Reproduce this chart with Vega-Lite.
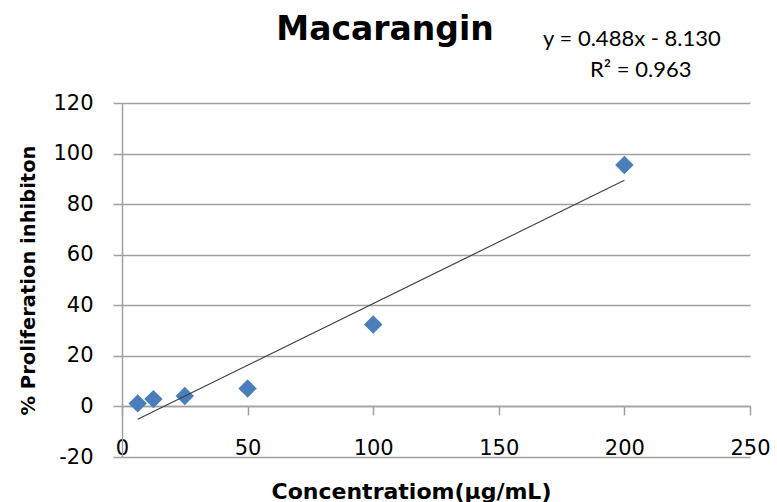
{
  "$schema": "https://vega.github.io/schema/vega-lite/v6.json",
  "width": 628,
  "height": 354,
  "autosize": {"type": "none"},
  "padding": {"left": 122, "top": 103, "right": 27, "bottom": 45},
  "background": "white",
  "config": {"view": {"stroke": null}},
  "title": {
    "text": "Macarangin",
    "font": "DejaVu Sans",
    "fontSize": 33,
    "fontWeight": "bold",
    "color": "black",
    "anchor": "middle",
    "frame": "group",
    "dx": -51,
    "offset": -19
  },
  "datasets": {
    "points": [
      {"conc": 6.25, "inhib": 1.2},
      {"conc": 12.5, "inhib": 2.9},
      {"conc": 25, "inhib": 4.1},
      {"conc": 50, "inhib": 7.1},
      {"conc": 100, "inhib": 32.4},
      {"conc": 200, "inhib": 95.5}
    ],
    "trend": [
      {"conc": 6.25, "inhib": -5.08},
      {"conc": 200, "inhib": 89.47}
    ],
    "eq": [{"label": "y = 0.488x - 8.130"}],
    "r2": [{"label": "R² = 0.963"}]
  },
  "layer": [
    {
      "data": {"name": "points"},
      "mark": {"type": "point", "shape": "diamond", "filled": true, "size": 340, "color": "#4A7EBB", "opacity": 1},
      "encoding": {
        "x": {
          "field": "conc", "type": "quantitative",
          "scale": {"domain": [0, 250], "nice": false, "zero": false},
          "axis": {
            "values": [0, 50, 100, 150, 200, 250],
            "offset": -51,
            "grid": false,
            "labelFlush": false,
            "domainColor": "#a0a0a0",
            "domainWidth": 1.5,
            "tickColor": "#a0a0a0",
            "tickWidth": 1.5,
            "tickSize": 9,
            "labelPadding": 22,
            "labelFont": "DejaVu Sans",
            "labelFontSize": 21,
            "labelColor": "black",
            "title": "Concentratiom(µg/mL)",
            "titleFont": "DejaVu Sans",
            "titleFontSize": 22,
            "titleFontWeight": "bold",
            "titleColor": "black",
            "titleX": 289,
            "titleY": 92,
            "titleBaseline": "alphabetic",
            "titleAlign": "center"
          }
        },
        "y": {
          "field": "inhib", "type": "quantitative",
          "scale": {"domain": [-20, 120], "nice": false, "zero": false},
          "axis": {
            "values": [-20, 0, 20, 40, 60, 80, 100, 120],
            "labelExpr": "toString(datum.value)",
            "grid": true,
            "gridColor": "#a0a0a0",
            "gridWidth": 1.5,
            "domainColor": "#a0a0a0",
            "domainWidth": 1.5,
            "tickColor": "#a0a0a0",
            "tickWidth": 1.5,
            "tickSize": 9,
            "labelPadding": 20,
            "labelFont": "DejaVu Sans",
            "labelFontSize": 21,
            "labelColor": "black",
            "title": "% Proliferation inhibiton",
            "titleFont": "DejaVu Sans",
            "titleFontSize": 19.5,
            "titleFontWeight": "bold",
            "titleColor": "black",
            "titleX": -94,
            "titleY": 177,
            "titleAngle": 270,
            "titleBaseline": "middle",
            "titleAlign": "center"
          }
        }
      }
    },
    {
      "data": {"name": "trend"},
      "mark": {"type": "line", "color": "#404040", "strokeWidth": 1.2},
      "encoding": {
        "x": {"field": "conc", "type": "quantitative"},
        "y": {"field": "inhib", "type": "quantitative"}
      }
    },
    {
      "data": {"name": "eq"},
      "mark": {"type": "text", "font": "Lato", "fontSize": 22, "color": "black", "align": "center", "baseline": "middle"},
      "encoding": {
        "x": {"datum": 203},
        "y": {"datum": 145.5},
        "text": {"field": "label"}
      }
    },
    {
      "data": {"name": "r2"},
      "mark": {"type": "text", "font": "Lato", "fontSize": 22, "color": "black", "align": "center", "baseline": "middle"},
      "encoding": {
        "x": {"datum": 206.5},
        "y": {"datum": 133},
        "text": {"field": "label"}
      }
    }
  ]
}
